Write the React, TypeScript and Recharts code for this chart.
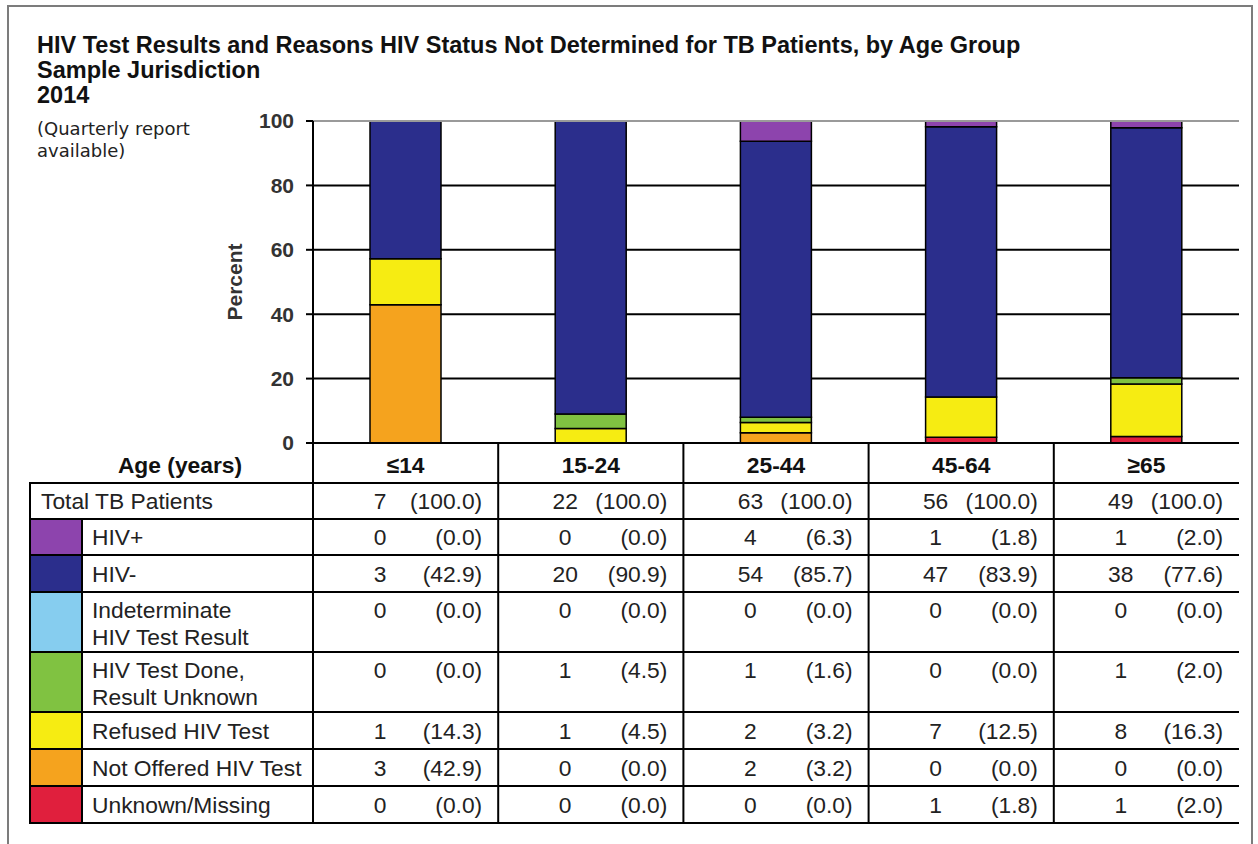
import React from 'react';
import { BarChart, Bar, XAxis, YAxis, CartesianGrid, ReferenceLine, Label } from 'recharts';

// ---------- data ----------
const ageGroups = ['≤14', '15-24', '25-44', '45-64', '≥65'];
const totalCounts = [7, 22, 63, 56, 49];
const totalPct = [100.0, 100.0, 100.0, 100.0, 100.0];
const hivPosCounts = [0, 0, 4, 1, 1];
const hivPosPct = [0.0, 0.0, 6.3, 1.8, 2.0];
const hivNegCounts = [3, 20, 54, 47, 38];
const hivNegPct = [42.9, 90.9, 85.7, 83.9, 77.6];
const indetCounts = [0, 0, 0, 0, 0];
const indetPct = [0.0, 0.0, 0.0, 0.0, 0.0];
const doneUnknownCounts = [0, 1, 1, 0, 1];
const doneUnknownPct = [0.0, 4.5, 1.6, 0.0, 2.0];
const refusedCounts = [1, 1, 2, 7, 8];
const refusedPct = [14.3, 4.5, 3.2, 12.5, 16.3];
const notOfferedCounts = [3, 0, 2, 0, 0];
const notOfferedPct = [42.9, 0.0, 3.2, 0.0, 0.0];
const unknownCounts = [0, 0, 0, 1, 1];
const unknownPct = [0.0, 0.0, 0.0, 1.8, 2.0];
const yTicks = [0, 20, 40, 60, 80, 100];

const titleLines = [
  'HIV Test Results and Reasons HIV Status Not Determined for TB Patients, by Age Group',
  'Sample Jurisdiction',
  '2014',
];
const noteLines = ['(Quarterly report', 'available)'];
const axisTitle = 'Percent';
const headerLabel = 'Age (years)';
const totalLabel = 'Total TB Patients';

// table order (top to bottom)
const series = [
  { key: 'hivPos', label: ['HIV+'], color: '#8d44ad', counts: hivPosCounts, pct: hivPosPct },
  { key: 'hivNeg', label: ['HIV-'], color: '#2b2e8c', counts: hivNegCounts, pct: hivNegPct },
  { key: 'indet', label: ['Indeterminate', 'HIV Test Result'], color: '#86cdef', counts: indetCounts, pct: indetPct },
  { key: 'doneUnknown', label: ['HIV Test Done,', 'Result Unknown'], color: '#80c241', counts: doneUnknownCounts, pct: doneUnknownPct },
  { key: 'refused', label: ['Refused HIV Test'], color: '#f6ec12', counts: refusedCounts, pct: refusedPct },
  { key: 'notOffered', label: ['Not Offered HIV Test'], color: '#f5a31e', counts: notOfferedCounts, pct: notOfferedPct },
  { key: 'unknown', label: ['Unknown/Missing'], color: '#e01f3d', counts: unknownCounts, pct: unknownPct },
];

const chartData = ageGroups.map((g, i) => {
  const row: Record<string, any> = { group: g };
  series.forEach((s) => (row[s.key] = s.pct[i]));
  return row;
});

// ---------- layout ----------
const W = 1258;
const H = 844;
const PL = 313;
const PR = 1239;
const PT = 121;
const PB = 443;
const Y_AXIS_W = 80;
const X_AXIS_H = 40;
const FONT = "'Liberation Sans', Arial, Helvetica, sans-serif";
const TABLE_LEFT = 30;
const SWATCH_RIGHT = 82;
const rowLines = [483, 519, 555, 592, 652, 712, 749, 786, 823];
const FS = 22.8;

const XTick = (props: any) => {
  const { x, payload } = props;
  return (
    <text x={x} y={PB + 30} textAnchor="middle" fontFamily={FONT} fontSize={FS} fontWeight="bold" fill="#111">
      {payload.value}
    </text>
  );
};

export default function App() {
  const band = (PR - PL) / ageGroups.length;
  const colBounds = ageGroups.map((_, i) => PL + i * band);
  const stackOrder = [...series].reverse();

  const tableRows = [
    { label: [totalLabel], counts: totalCounts, pct: totalPct, color: null as string | null },
    ...series.map((s) => ({ label: s.label, counts: s.counts, pct: s.pct, color: s.color })),
  ];

  return (
    <div style={{ position: 'absolute', left: 0, top: 0, width: W, height: H, background: '#fff', overflow: 'hidden' }}>
      <div
        style={{
          position: 'absolute',
          left: 7,
          top: 5,
          width: 1242,
          height: 900,
          borderTop: '2px solid #7c7c7c',
          borderLeft: '2px solid #7c7c7c',
          borderRight: '2px solid #7c7c7c',
        }}
      />
      <div style={{ position: 'absolute', left: 0, top: 0 }}>
        <BarChart
          width={W}
          height={H}
          data={chartData}
          margin={{ top: PT, right: W - PR, left: PL - Y_AXIS_W, bottom: H - PB - X_AXIS_H }}
          barCategoryGap={0}
        >
          <CartesianGrid vertical={false} stroke="#000" strokeWidth={2} strokeDasharray="" />
          <ReferenceLine y={100} stroke="#9a9a9a" strokeWidth={2} />
          <XAxis
            dataKey="group"
            height={X_AXIS_H}
            axisLine={{ stroke: '#000', strokeWidth: 2 }}
            tickLine={false}
            tick={<XTick />}
            interval={0}
          />
          <YAxis
            width={Y_AXIS_W}
            domain={[0, 100]}
            ticks={yTicks}
            allowDataOverflow
            axisLine={{ stroke: '#000', strokeWidth: 2 }}
            tickLine={{ stroke: '#000', strokeWidth: 2 }}
            tickSize={7}
            tickMargin={12}
            tick={{ fontFamily: FONT, fontSize: 21, fontWeight: 'bold', fill: '#333' }}
          >
            <Label
              content={() => (
                <text
                  x={234}
                  y={(PT + PB) / 2}
                  transform={`rotate(-90 234 ${(PT + PB) / 2})`}
                  textAnchor="middle"
                  dominantBaseline="central"
                  fontFamily={FONT}
                  fontSize={21}
                  fontWeight="bold"
                  fill="#333"
                >
                  {axisTitle}
                </text>
              )}
            />
          </YAxis>
          {stackOrder.map((s) => (
            <Bar
              key={s.key}
              dataKey={s.key}
              stackId="a"
              fill={s.color}
              stroke="#000"
              strokeWidth={1.5}
              barSize={71}
              isAnimationActive={false}
            />
          ))}
        </BarChart>
      </div>

      <svg width={W} height={H} style={{ position: 'absolute', left: 0, top: 0, pointerEvents: 'none' }} fontFamily={FONT}>
        {/* title */}
        {titleLines.map((t, i) => (
          <text key={t} x={37} y={53 + i * 25} fontSize={23.5} fontWeight="bold" fill="#111">
            {t}
          </text>
        ))}
        {noteLines.map((t, i) => (
          <text key={t} x={37} y={135 + i * 22} fontSize={18} fontFamily="'DejaVu Sans', sans-serif" fill="#222">
            {t}
          </text>
        ))}

        {/* swatches */}
        {tableRows.map((r, i) =>
          r.color ? (
            <rect key={'sw' + i} x={TABLE_LEFT} y={rowLines[i]} width={SWATCH_RIGHT - TABLE_LEFT} height={rowLines[i + 1] - rowLines[i]} fill={r.color} />
          ) : null
        )}

        {/* horizontal lines */}
        {rowLines.map((y) => (
          <line key={'h' + y} x1={TABLE_LEFT - 1} x2={PR} y1={y} y2={y} stroke="#000" strokeWidth={2} />
        ))}
        {/* vertical lines */}
        <line x1={TABLE_LEFT} x2={TABLE_LEFT} y1={rowLines[0]} y2={rowLines[rowLines.length - 1]} stroke="#000" strokeWidth={2} />
        <line x1={SWATCH_RIGHT} x2={SWATCH_RIGHT} y1={rowLines[1]} y2={rowLines[rowLines.length - 1]} stroke="#000" strokeWidth={2} />
        {colBounds.map((x) => (
          <line key={'v' + x} x1={x} x2={x} y1={PB} y2={rowLines[rowLines.length - 1]} stroke="#000" strokeWidth={2} />
        ))}

        {/* header */}
        <text x={180} y={PB + 30} textAnchor="middle" fontSize={FS} fontWeight="bold" fill="#111">
          {headerLabel}
        </text>

        {/* rows */}
        {tableRows.map((r, i) => {
          const top = rowLines[i];
          const single = r.label.length === 1;
          const base = single ? (top + rowLines[i + 1]) / 2 + 8 : top + 26;
          const lx = r.color ? 92 : 41;
          return (
            <g key={'row' + i}>
              {r.label.map((l, j) => (
                <text key={l} x={lx} y={base + j * 27} fontSize={FS} fill="#222">
                  {l}
                </text>
              ))}
              {r.counts.map((c, k) => (
                <g key={k}>
                  <text x={colBounds[k] + 67} y={base} textAnchor="middle" fontSize={FS} fill="#222">
                    {c}
                  </text>
                  <text x={colBounds[k] + band - 16} y={base} textAnchor="end" fontSize={FS} fill="#222">
                    {'(' + r.pct[k].toFixed(1) + ')'}
                  </text>
                </g>
              ))}
            </g>
          );
        })}
      </svg>
    </div>
  );
}
